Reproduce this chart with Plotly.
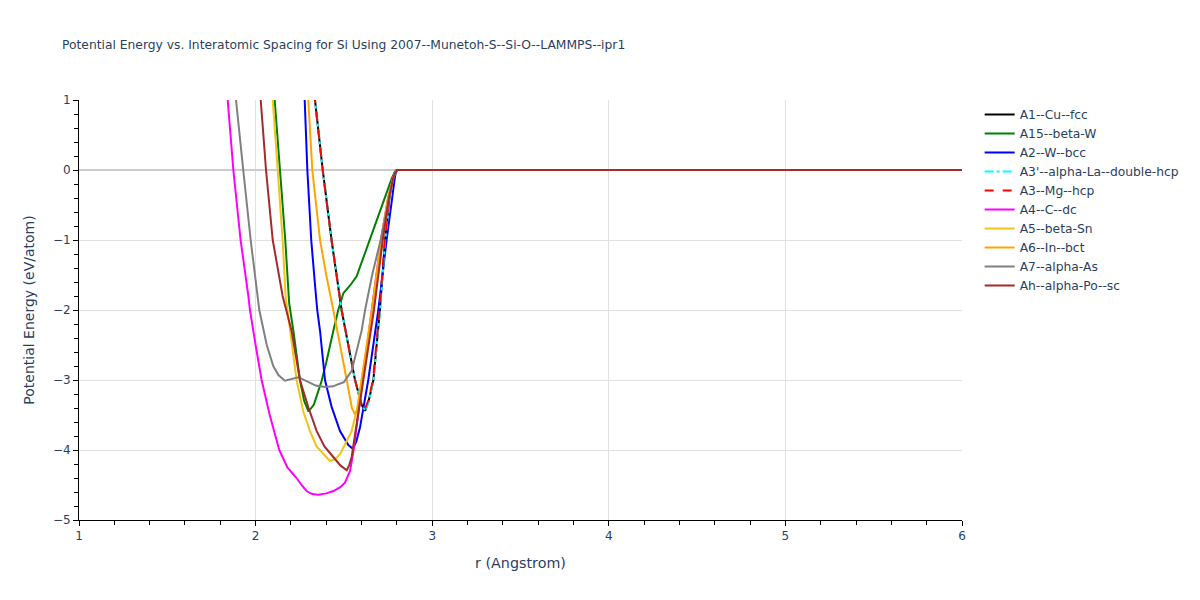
import plotly.graph_objects as go

title = "Potential Energy vs. Interatomic Spacing for Si Using 2007--Munetoh-S--Si-O--LAMMPS--ipr1"

tail_r = [3.0, 4.0, 5.0, 6.0]
tail_e = [0.0, 0.0, 0.0, 0.0]

a1_r = [2.31, 2.337, 2.38, 2.43, 2.487, 2.525, 2.563, 2.60, 2.62, 2.64, 2.667, 2.704, 2.733, 2.76, 2.785, 2.8]
a1_e = [1.6, 1.0, 0.0, -1.0, -2.0, -2.5, -3.0, -3.35, -3.44, -3.3, -3.0, -2.0, -1.0, -0.35, -0.05, 0.0]

a15_r = [2.09, 2.108, 2.138, 2.168, 2.19, 2.214, 2.251, 2.275, 2.30, 2.33, 2.374, 2.40, 2.44, 2.468, 2.497, 2.535, 2.572, 2.61, 2.648, 2.68, 2.714, 2.75, 2.771, 2.79, 2.8]
a15_e = [1.8, 1.0, 0.0, -1.0, -1.9, -2.3, -3.0, -3.3, -3.45, -3.35, -3.01, -2.75, -2.3, -2.0, -1.76, -1.65, -1.52, -1.25, -1.0, -0.75, -0.5, -0.25, -0.12, -0.02, 0.0]

a2_r = [2.26, 2.278, 2.293, 2.315, 2.335, 2.349, 2.365, 2.393, 2.43, 2.478, 2.525, 2.55, 2.57, 2.591, 2.638, 2.695, 2.742, 2.776, 2.79, 2.8]
a2_e = [1.8, 1.0, 0.0, -1.0, -1.6, -2.0, -2.3, -3.0, -3.38, -3.73, -3.93, -3.98, -3.88, -3.68, -3.0, -2.0, -1.0, -0.35, -0.08, 0.0]

a3p_r = [2.31, 2.337, 2.38, 2.43, 2.487, 2.525, 2.563, 2.60, 2.622, 2.642, 2.668, 2.705, 2.734, 2.761, 2.786, 2.8]
a3p_e = [1.6, 1.0, 0.0, -1.0, -2.0, -2.5, -3.0, -3.35, -3.44, -3.3, -3.0, -2.0, -1.0, -0.35, -0.05, 0.0]

a3_r = [2.31, 2.337, 2.38, 2.43, 2.487, 2.525, 2.563, 2.60, 2.615, 2.637, 2.665, 2.702, 2.732, 2.76, 2.785, 2.8]
a3_e = [1.6, 1.0, 0.0, -1.0, -2.0, -2.5, -3.0, -3.35, -3.44, -3.3, -3.0, -2.0, -1.0, -0.35, -0.05, 0.0]

a4_r = [1.82, 1.842, 1.874, 1.915, 1.959, 1.968, 2.0, 2.034, 2.08, 2.134, 2.18, 2.232, 2.26, 2.289, 2.32, 2.355, 2.40, 2.44, 2.48, 2.506, 2.535, 2.555, 2.606, 2.658, 2.71, 2.75, 2.78, 2.8]
a4_e = [1.8, 1.0, 0.0, -1.0, -1.8, -2.0, -2.5, -3.0, -3.5, -4.0, -4.25, -4.4, -4.5, -4.586, -4.63, -4.64, -4.62, -4.586, -4.53, -4.467, -4.3, -4.0, -3.0, -2.0, -1.0, -0.4, -0.1, 0.0]

a5_r = [2.08, 2.097, 2.125, 2.153, 2.17, 2.195, 2.232, 2.27, 2.308, 2.345, 2.383, 2.421, 2.45, 2.478, 2.51, 2.544, 2.575, 2.6, 2.662, 2.72, 2.755, 2.78, 2.8]
a5_e = [1.8, 1.0, 0.0, -1.0, -1.8, -2.3, -3.0, -3.45, -3.73, -3.95, -4.06, -4.157, -4.13, -4.06, -3.9, -3.73, -3.4, -3.0, -2.0, -1.0, -0.4, -0.1, 0.0]

a6_r = [2.28, 2.299, 2.321, 2.365, 2.40, 2.44, 2.48, 2.516, 2.545, 2.563, 2.58, 2.601, 2.658, 2.71, 2.75, 2.78, 2.8]
a6_e = [1.8, 1.0, 0.0, -1.0, -1.5, -2.0, -2.5, -3.0, -3.4, -3.49, -3.4, -3.0, -2.0, -1.0, -0.4, -0.1, 0.0]

a7_r = [1.87, 1.889, 1.93, 1.972, 2.021, 2.063, 2.10, 2.129, 2.166, 2.20, 2.242, 2.30, 2.34, 2.393, 2.44, 2.468, 2.50, 2.544, 2.60, 2.62, 2.66, 2.708, 2.761, 2.785, 2.8]
a7_e = [1.8, 1.0, 0.0, -1.0, -2.0, -2.5, -2.8, -2.93, -3.01, -2.99, -2.96, -3.03, -3.08, -3.1, -3.09, -3.06, -3.03, -2.87, -2.3, -2.0, -1.5, -1.0, -0.33, -0.06, 0.0]

ah_r = [2.01, 2.029, 2.059, 2.097, 2.153, 2.204, 2.251, 2.30, 2.346, 2.39, 2.44, 2.48, 2.516, 2.53, 2.544, 2.575, 2.61, 2.67, 2.72, 2.755, 2.78, 2.8]
ah_e = [1.8, 1.0, 0.0, -1.0, -1.8, -2.3, -3.0, -3.4, -3.73, -3.95, -4.1, -4.22, -4.29, -4.22, -4.1, -3.6, -3.0, -2.0, -1.0, -0.4, -0.1, 0.0]

series = [
    ("A1--Cu--fcc", a1_r, a1_e, "black", "solid"),
    ("A15--beta-W", a15_r, a15_e, "green", "solid"),
    ("A2--W--bcc", a2_r, a2_e, "blue", "solid"),
    ("A3'--alpha-La--double-hcp", a3p_r, a3p_e, "cyan", "dashdot"),
    ("A3--Mg--hcp", a3_r, a3_e, "red", "dash"),
    ("A4--C--dc", a4_r, a4_e, "magenta", "solid"),
    ("A5--beta-Sn", a5_r, a5_e, "#F2C414", "solid"),
    ("A6--In--bct", a6_r, a6_e, "orange", "solid"),
    ("A7--alpha-As", a7_r, a7_e, "gray", "solid"),
    ("Ah--alpha-Po--sc", ah_r, ah_e, "brown", "solid"),
]

fig = go.Figure()
for name, r, e, color, dash in series:
    fig.add_trace(go.Scatter(
        x=list(r) + tail_r, y=list(e) + tail_e, mode="lines", name=name,
        line=dict(color=color, dash=dash, width=2),
    ))

axis_common = dict(
    showline=True, linecolor="black", linewidth=1,
    ticks="outside", ticklen=5, tickcolor="black",
    showgrid=True, gridcolor="#e0e0e0",
    tickfont=dict(size=12, color="#2a3f5f"),
)

FONT = "DejaVu Sans, Verdana, sans-serif"

fig.update_layout(
    width=1192, height=593,
    title=dict(text=title, x=54 / 1192, xref="container", y=1 - 37 / 593,
               xanchor="left", yanchor="middle",
               font=dict(size=12.3, color="#2a3f5f", family=FONT)),
    plot_bgcolor="white", paper_bgcolor="white",
    margin=dict(l=71, r=238, t=92, b=81, autoexpand=False),
    font=dict(family=FONT, color="#2a3f5f"),
    legend=dict(x=1.02, y=1.0, xanchor="left", yanchor="top", font=dict(size=12.3)),
    showlegend=True,
)
fig.update_xaxes(
    range=[1, 6], dtick=1, title=dict(text="r (Angstrom)", font=dict(size=14.3)),
    zeroline=False,
    minor=dict(ticks="outside", dtick=0.2, ticklen=4, tickcolor="black", showgrid=False),
    **axis_common,
)
fig.update_yaxes(
    range=[-5, 1], dtick=1, title=dict(text="Potential Energy (eV/atom)", font=dict(size=14), standoff=14),
    zeroline=True, zerolinecolor="#cccccc", zerolinewidth=2,
    minor=dict(ticks="outside", dtick=0.2, ticklen=4, tickcolor="black", showgrid=False),
    **axis_common,
)

fig.write_html("out.html")
